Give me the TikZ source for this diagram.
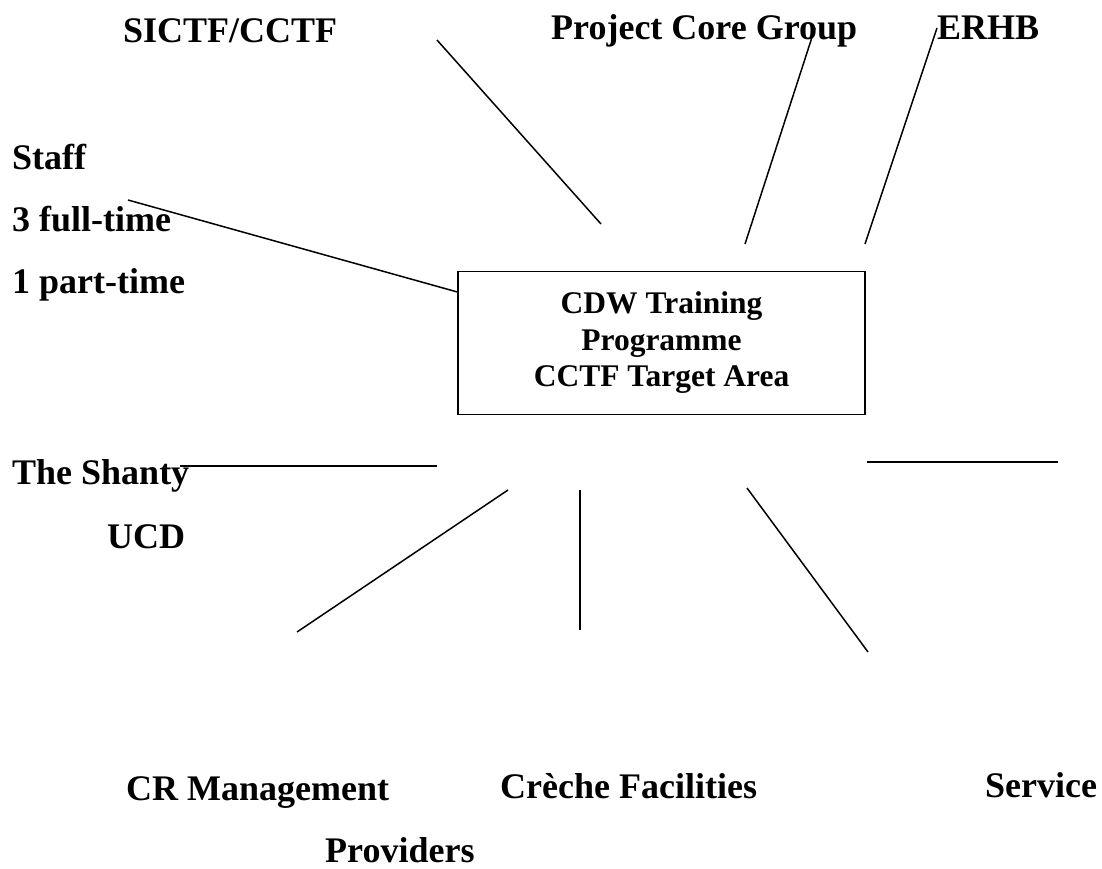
\documentclass[tikz,border=0pt]{standalone}
\usepackage{fontspec}
\setmainfont{Liberation Serif}
\begin{document}
\begin{tikzpicture}[x=1pt,y=-1pt,
  label/.style={anchor=base west,inner sep=0pt,font=\fontsize{36}{40}\selectfont\bfseries},
  hub/.style={draw,line width=1.3pt,minimum width=407pt,minimum height=143pt,inner sep=0pt,
    align=center,font=\fontsize{31.5}{36.5}\selectfont\bfseries},
  spoke/.style={line width=1.5pt}]
\useasboundingbox (0,0) rectangle (1102,869);

% central box
\node[hub] (hub) at (661.5,343) {CDW Training\\Programme\\CCTF Target Area};

% surrounding labels
\node[label] (sictf) at (123,43) {SICTF/CCTF};
\node[label] (pcg) at (551,40) {Project Core Group};
\node[label] (erhb) at (937,40) {ERHB};
\node[label] (staff) at (12,170) {Staff};
\node[label] (full) at (12,231) {3 full-time};
\node[label] (part) at (12,293) {1 part-time};
\node[label] (shanty) at (12,484) {The Shanty};
\node[label] (ucd) at (107,548) {UCD};
\node[label] (crm) at (126,800) {CR Management};
\node[label] (prov) at (325,862) {Providers};
\node[label] (creche) at (500,798) {Crèche Facilities};
\node[label] (service) at (985,797) {Service};

% spoke end points
\coordinate (a1) at (437,40);   \coordinate (a2) at (601,224);
\coordinate (b1) at (815,28);   \coordinate (b2) at (745,244);
\coordinate (c1) at (937,28);   \coordinate (c2) at (865,244);
\coordinate (d1) at (128,200);  \coordinate (d2) at (hub.west |- 0,292);
\coordinate (e1) at (180,466);  \coordinate (e2) at (437,466);
\coordinate (f1) at (297,632);  \coordinate (f2) at (508,490);
\coordinate (g1) at (580,490);  \coordinate (g2) at (580,630);
\coordinate (h1) at (747,488);  \coordinate (h2) at (868,652);
\coordinate (i1) at (867,462);  \coordinate (i2) at (1058,462);

% spokes
\draw[spoke] (a1) -- (a2);
\draw[spoke] (b1) -- (b2);
\draw[spoke] (c1) -- (c2);
\draw[spoke] (d1) -- (d2);
\draw[spoke] (e1) -- (e2);
\draw[spoke] (f1) -- (f2);
\draw[spoke] (g1) -- (g2);
\draw[spoke] (h1) -- (h2);
\draw[spoke] (i1) -- (i2);
\end{tikzpicture}
\end{document}
